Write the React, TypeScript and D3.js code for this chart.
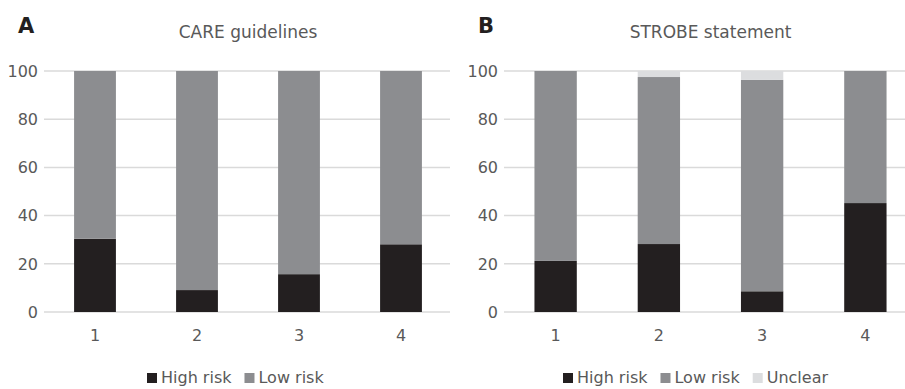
import React from 'react';
import * as d3 from 'd3';

// Panel A: CARE guidelines
const careItems = ['1', '2', '3', '4'];
const careHigh = [30.4, 9.1, 15.7, 28.1];
const careLow = [69.6, 90.9, 84.3, 71.9];

// Panel B: STROBE statement
const strobeItems = ['1', '2', '3', '4'];
const strobeHigh = [21.2, 28.2, 8.6, 45.2];
const strobeLow = [78.8, 69.3, 87.7, 54.8];
const strobeUnclear = [0, 2.5, 3.7, 0];

const yTicks = [0, 20, 40, 60, 80, 100];

const colors = { high: '#231f20', low: '#8c8d90', unclear: '#dcdddf' };
const textColor = '#595959';
const font = '"DejaVu Sans", "Liberation Sans", Arial, sans-serif';

// measure legend labels so the items sit like in the original
let ctx: CanvasRenderingContext2D | null = null;
function textWidth(s: string, size: number) {
  if (!ctx) ctx = document.createElement('canvas').getContext('2d');
  if (!ctx) return s.length * 8;
  ctx.font = `${size}px ${font}`;
  return ctx.measureText(s).width;
}

type Panel = {
  letter: string;
  title: string;
  items: string[];
  series: { key: string; label: string; values: number[] }[];
  left: number;
  right: number;
  gridEnd: number;
  labelX: number;
  legendX: number;
};

function ChartPanel({ p }: { p: Panel }) {
  const y = d3.scaleLinear().domain([0, 100]).range([312, 71]);
  const x = d3.scaleBand<string>()
    .domain(p.items)
    .range([p.left, p.right])
    .paddingInner(0.59)
    .paddingOuter(0.295);

  const rows = p.items.map((it, i) => {
    const r: any = { item: it };
    p.series.forEach(s => { r[s.key] = s.values[i]; });
    return r;
  });
  const stack = d3.stack<any>().keys(p.series.map(s => s.key))(rows);
  const mid = (p.left + p.right) / 2;

  let lx = p.legendX;
  const legendItems = p.series.map(s => {
    const item = { ...s, x: lx };
    lx += 10 + 4 + textWidth(s.label, 16) + 13;
    return item;
  });

  return (
    <g>
      <text x={p.left - 26} y={33} fontSize={21} fontWeight="bold" fill="#231f20" fontFamily={font}>{p.letter}</text>
      <text x={mid} y={38} fontSize={17} fill={textColor} textAnchor="middle" fontFamily={font}>{p.title}</text>
      {yTicks.map(t => (
        <g key={t}>
          <line x1={p.labelX + 6} x2={p.gridEnd} y1={y(t)} y2={y(t)} stroke="#dadada" strokeWidth={1.5} />
          <text x={p.labelX} y={y(t)} dy="0.36em" textAnchor="end" fontSize={16} fill={textColor} fontFamily={font}>{t}</text>
        </g>
      ))}
      {stack.map(layer => (
        <g key={layer.key} fill={(colors as any)[layer.key]}>
          {layer.map((d, i) => (
            <rect key={i}
              x={x(p.items[i])}
              width={x.bandwidth()}
              y={y(d[1])}
              height={Math.max(0, y(d[0]) - y(d[1]))} />
          ))}
        </g>
      ))}
      {p.items.map(it => (
        <text key={it} x={(x(it) || 0) + x.bandwidth() / 2} y={341} textAnchor="middle" fontSize={16} fill={textColor} fontFamily={font}>{it}</text>
      ))}
      {legendItems.map(s => (
        <g key={s.key}>
          <rect x={s.x} y={373} width={10} height={10} fill={(colors as any)[s.key]} />
          <text x={s.x + 14} y={383} fontSize={16} fill={textColor} fontFamily={font}>{s.label}</text>
        </g>
      ))}
    </g>
  );
}

export default function App() {
  const panels: Panel[] = [
    {
      letter: 'A', title: 'CARE guidelines', items: careItems,
      series: [
        { key: 'high', label: 'High risk', values: careHigh },
        { key: 'low', label: 'Low risk', values: careLow },
      ],
      left: 44, right: 452, gridEnd: 450, labelX: 38, legendX: 147,
    },
    {
      letter: 'B', title: 'STROBE statement', items: strobeItems,
      series: [
        { key: 'high', label: 'High risk', values: strobeHigh },
        { key: 'low', label: 'Low risk', values: strobeLow },
        { key: 'unclear', label: 'Unclear', values: strobeUnclear },
      ],
      left: 504, right: 917, gridEnd: 905, labelX: 498, legendX: 563,
    },
  ];
  return (
    <svg width={905} height={389} style={{ position: 'absolute', left: 0, top: 0, background: '#fff' }}>
      <rect width={905} height={389} fill="#fff" />
      {panels.map(p => <ChartPanel key={p.letter} p={p} />)}
    </svg>
  );
}
